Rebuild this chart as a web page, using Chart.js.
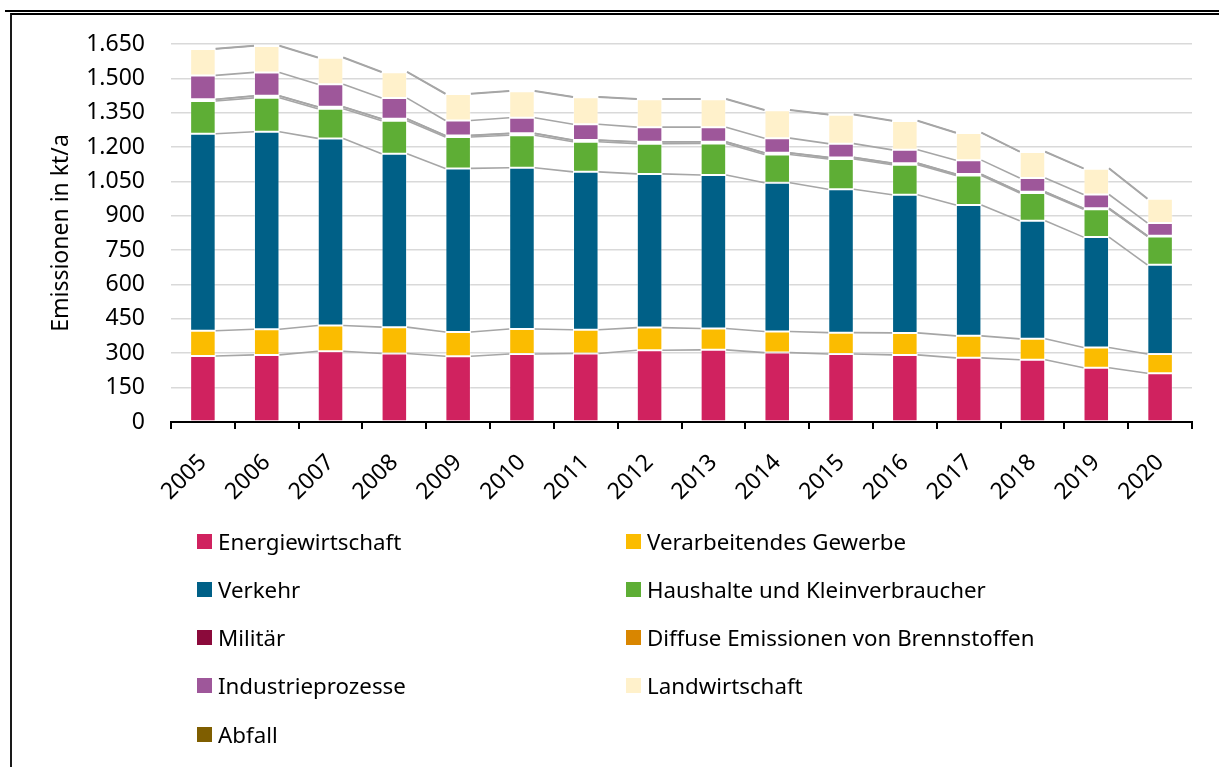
<!DOCTYPE html>
<html lang="de">
<head>
<meta charset="utf-8">
<title>Emissionen in kt/a</title>
<script src="https://cdn.jsdelivr.net/npm/chart.js@4.4.1/dist/chart.umd.min.js"></script>
<style>
    html, body { margin: 0; padding: 0; background: #fff; }
    body { width: 1219px; height: 767px; position: relative; overflow: hidden; font-family: "Noto Sans", sans-serif; }
    #wrap { position: absolute; left: 0; top: 0; width: 1219px; height: 767px; }
    .rule { position: absolute; left: 5px; right: 0; top: 10px; height: 2px; background: #000; }
    .box { position: absolute; left: 10px; right: 0; top: 13px; bottom: 0; border-top: 2px solid #000; border-left: 2px solid #1a1a1a; }
    #legend { position: absolute; left: 197px; top: 527px; display: grid; grid-template-columns: 429px 400px; grid-auto-rows: 48.3px; }
    .item { display: flex; align-items: center; height: 28px; font-size: 22.3px; color: #000; white-space: nowrap; }
    .swatch { width: 15px; height: 15px; margin-right: 6px; flex: none; }
</style>
</head>
<body>
<div class="rule"></div>
<div class="box"></div>
<div id="wrap"><canvas id="chart" width="1219" height="767"></canvas></div>
<div id="legend"></div>
<script>
// Jahre (Kategorien)
const years = ['2005', '2006', '2007', '2008', '2009', '2010', '2011', '2012',
               '2013', '2014', '2015', '2016', '2017', '2018', '2019', '2020'];

// Emissionen je Sektor in kt/a
const energiewirtschaft = [288, 293, 309, 299, 287, 297, 299, 313, 315, 303, 297, 293, 280, 272, 237, 213];
const verarbeitendesGewerbe = [110, 112, 112, 115, 106, 109, 104, 99, 93, 92, 93, 96, 96, 91, 88, 84];
const verkehr = [860, 862, 817, 757, 714, 704, 689, 671, 670, 649, 626, 603, 571, 515, 482, 389];
const haushalte = [143, 148, 129, 144, 137, 142, 131, 132, 138, 124, 132, 131, 129, 122, 122, 124];
const militaer = [7, 8, 8, 8, 6, 7, 7, 7, 6, 6, 6, 6, 5, 4, 3, 2];
const diffuseEmissionen = [1, 1, 1, 1, 1, 1, 1, 1, 1, 1, 1, 1, 1, 1, 1, 1];
const industrieprozesse = [104, 102, 98, 90, 65, 68, 69, 64, 64, 64, 60, 58, 61, 60, 60, 56];
const landwirtschaft = [115, 115, 116, 113, 116, 116, 118, 122, 122, 122, 126, 126, 119, 114, 113, 105];
const abfall = [2, 2, 2, 2, 2, 2, 2, 2, 2, 2, 2, 2, 2, 2, 2, 2];

// Achse
const yMax = 1650;
const yStep = 150;

const FONT = '"Noto Sans", sans-serif';

// Tausenderpunkt wie im Original (1.650)
function formatDe(value) {
    return String(value).replace(/\B(?=(\d{3})+(?!\d))/g, '.');
}

// Verbindungslinien zwischen den Segmenten benachbarter Säulen
const seriesLines = {
    id: 'seriesLines',
    afterDatasetsDraw(chart) {
        const ctx = chart.ctx;
        ctx.save();
        ctx.strokeStyle = '#a6a6a6';
        ctx.lineWidth = 1.6;
        chart.data.datasets.forEach((ds, di) => {
            const meta = chart.getDatasetMeta(di);
            if (meta.hidden) return;
            const bars = meta.data;
            for (let i = 0; i < bars.length - 1; i++) {
                const a = bars[i];
                const b = bars[i + 1];
                ctx.beginPath();
                ctx.moveTo(a.x + a.width / 2, a.y);
                ctx.lineTo(b.x - b.width / 2, b.y);
                ctx.stroke();
            }
        });
        ctx.restore();
    }
};

function makeSet(label, data, color) {
    return {
        label: label,
        data: data,
        backgroundColor: color,
        borderColor: 'rgba(255, 255, 255, 0.3)',
        borderWidth: 1,
        borderSkipped: false,
        categoryPercentage: 1,
        barPercentage: 0.4
    };
}

const datasets = [
    makeSet('Energiewirtschaft', energiewirtschaft, '#d0225f'),
    makeSet('Verarbeitendes Gewerbe', verarbeitendesGewerbe, '#fbbc00'),
    makeSet('Verkehr', verkehr, '#006087'),
    makeSet('Haushalte und Kleinverbraucher', haushalte, '#5eae35'),
    makeSet('Militär', militaer, '#8b0a3b'),
    makeSet('Diffuse Emissionen von Brennstoffen', diffuseEmissionen, '#d98600'),
    makeSet('Industrieprozesse', industrieprozesse, '#9e579a'),
    makeSet('Landwirtschaft', landwirtschaft, '#fff1cb'),
    makeSet('Abfall', abfall, '#7f5e00')
];

const chart = new Chart(document.getElementById('chart').getContext('2d'), {
    type: 'bar',
    data: { labels: years, datasets: datasets },
    plugins: [seriesLines],
    options: {
        responsive: false,
        animation: false,
        layout: { padding: { top: 44, right: 27, bottom: 0, left: 0 } },
        plugins: {
            legend: { display: false },
            tooltip: { enabled: false }
        },
        scales: {
            x: {
                stacked: true,
                afterFit: (scale) => { scale.height = 345; },
                border: { display: true, color: '#000', width: 2 },
                grid: {
                    offset: true,
                    drawOnChartArea: false,
                    drawTicks: true,
                    tickLength: 7,
                    color: '#000',
                    lineWidth: 2
                },
                ticks: {
                    color: '#000',
                    font: { family: FONT, size: 23 },
                    autoSkip: false,
                    maxRotation: 45,
                    minRotation: 45,
                    padding: 20
                }
            },
            y: {
                stacked: true,
                min: 0,
                max: yMax,
                afterFit: (scale) => { scale.width = 171; },
                border: { display: false },
                grid: {
                    color: '#d9d9d9',
                    lineWidth: 1.6,
                    drawTicks: false
                },
                ticks: {
                    stepSize: yStep,
                    color: '#000',
                    font: { family: FONT, size: 23 },
                    padding: 26,
                    callback: (value) => formatDe(value)
                },
                title: {
                    display: true,
                    text: 'Emissionen in kt/a',
                    color: '#000',
                    font: { family: FONT, size: 23 },
                    padding: { top: 48, bottom: 0 }
                }
            }
        }
    }
});

// Legende in zwei Spalten wie im Original
const legendEl = document.getElementById('legend');
legendEl.innerHTML = chart.data.datasets.map(ds => `
    <div class="item"><span class="swatch" style="background:${ds.backgroundColor}"></span>${ds.label}</div>
`).join('');
</script>
</body>
</html>
